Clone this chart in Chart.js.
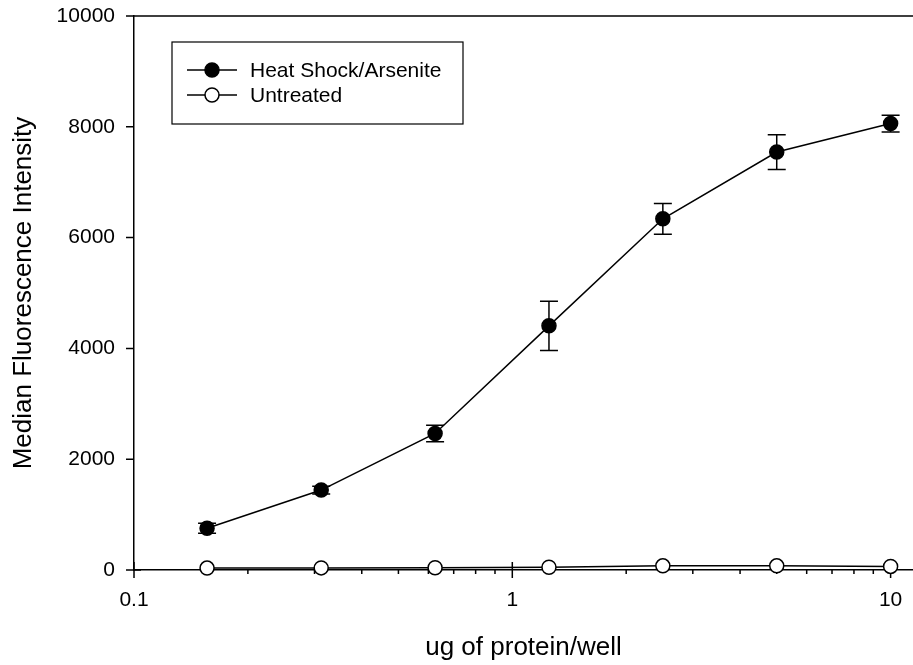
<!DOCTYPE html>
<html>
<head>
<meta charset="utf-8">
<script src="https://cdn.jsdelivr.net/npm/chart.js@4.4.1/dist/chart.umd.min.js"></script>
<style>
  html, body { margin: 0; padding: 0; background: #fff; }
  #wrap { width: 913px; height: 665px; }
</style>
</head>
<body>
<div id="wrap"><canvas id="chart" width="913" height="665"></canvas></div>
<script>
// protein dose per well (ug)
const doses = [0.156, 0.3125, 0.625, 1.25, 2.5, 5, 10];
const heatShock = [755, 1443, 2465, 4407, 6339, 7544, 8058];
const heatShockErr = [90, 70, 150, 443, 277, 313, 151];
const untreated = [35, 38, 40, 50, 75, 75, 65];
const xTickLabels = [0.1, 1, 10];
const yTickLabels = [0, 2000, 4000, 6000, 8000, 10000];

const FONT = "'Liberation Sans', Arial, sans-serif";

const toPoints = (ys) => ys.map((y, i) => ({ x: doses[i], y: y }));

// error bars drawn under the markers
const errorBars = {
    id: 'errorBars',
    beforeDatasetsDraw(chart) {
        const ctx = chart.ctx;
        const xs = chart.scales.x, ys = chart.scales.y;
        ctx.save();
        ctx.strokeStyle = '#000';
        ctx.lineWidth = 1.5;
        heatShock.forEach((v, i) => {
            const px = xs.getPixelForValue(doses[i]);
            const top = ys.getPixelForValue(v + heatShockErr[i]);
            const bot = ys.getPixelForValue(v - heatShockErr[i]);
            ctx.beginPath();
            ctx.moveTo(px, top); ctx.lineTo(px, bot);
            ctx.moveTo(px - 9, top); ctx.lineTo(px + 9, top);
            ctx.moveTo(px - 9, bot); ctx.lineTo(px + 9, bot);
            ctx.stroke();
        });
        ctx.restore();
    }
};

// tick marks, top frame line and the boxed legend
const frame = {
    id: 'frame',
    beforeDatasetsDraw(chart) {
        const ctx = chart.ctx;
        const area = chart.chartArea;
        const xs = chart.scales.x, ys = chart.scales.y;
        ctx.save();
        ctx.strokeStyle = '#000';
        ctx.lineWidth = 1.5;
        ctx.beginPath();
        ctx.moveTo(area.left, area.top);
        ctx.lineTo(area.right, area.top);
        yTickLabels.forEach(v => {
            const py = ys.getPixelForValue(v);
            ctx.moveTo(area.left - 8, py);
            ctx.lineTo(v === 0 ? area.left + 7 : area.left, py);
        });
        xs.ticks.forEach(t => {
            const v = t.value;
            const e = Math.floor(Math.log10(v) + 1e-9);
            const m = v / Math.pow(10, e);
            if (Math.abs(m - Math.round(m)) > 1e-6) return;
            const px = xs.getPixelForValue(v);
            const major = Math.round(m) === 1;
            ctx.moveTo(px, major ? area.bottom - 8 : area.bottom);
            ctx.lineTo(px, area.bottom + (major ? 8 : 4));
        });
        ctx.stroke();
        ctx.restore();
    },
    afterDraw(chart) {
        const ctx = chart.ctx;
        ctx.save();
        ctx.strokeStyle = '#000';
        // legend
        const bx = 172, by = 42, bw = 291, bh = 82;
        ctx.lineWidth = 1.2;
        ctx.strokeRect(bx, by, bw, bh);
        ctx.font = '21px ' + FONT;
        ctx.textBaseline = 'middle';
        ctx.textAlign = 'left';
        chart.data.datasets.forEach((ds, i) => {
            const ly = 70 + i * 25;
            ctx.lineWidth = 1.5;
            ctx.beginPath();
            ctx.moveTo(187, ly); ctx.lineTo(237, ly);
            ctx.stroke();
            ctx.beginPath();
            ctx.arc(212, ly, 7, 0, Math.PI * 2);
            ctx.fillStyle = ds.pointBackgroundColor;
            ctx.fill();
            ctx.stroke();
            ctx.fillStyle = '#000';
            ctx.fillText(ds.label, 250, ly + 1);
        });
        ctx.restore();
    }
};

const config = {
    type: 'line',
    data: {
        datasets: [
            {
                label: 'Heat Shock/Arsenite',
                data: toPoints(heatShock),
                borderColor: '#000',
                borderWidth: 1.5,
                pointRadius: 7,
                pointBackgroundColor: '#000',
                pointBorderColor: '#000',
                pointBorderWidth: 1.5,
                tension: 0,
                clip: false,
            },
            {
                label: 'Untreated',
                data: toPoints(untreated),
                borderColor: '#000',
                borderWidth: 1.5,
                pointRadius: 7,
                pointBackgroundColor: '#fff',
                pointBorderColor: '#000',
                pointBorderWidth: 1.5,
                tension: 0,
                clip: false,
            },
        ]
    },
    options: {
        responsive: false,
        animation: false,
        devicePixelRatio: 1,
        layout: { autoPadding: false, padding: { top: 16, right: 0, left: 0, bottom: 0 } },
        plugins: {
            legend: { display: false },
            tooltip: { enabled: false },
        },
        scales: {
            x: {
                type: 'logarithmic',
                min: 0.1,
                max: 11.46,
                afterFit: (s) => {
                    s.height = 95;
                    s.paddingLeft = 0; s.paddingRight = 0;
                },
                grid: { display: false, drawTicks: false },
                border: { display: true, color: '#000', width: 1.5 },
                ticks: {
                    autoSkip: false,
                    maxRotation: 0,
                    padding: 18,
                    color: '#000',
                    font: { family: FONT, size: 21 },
                    callback: function (value) {
                        return xTickLabels.some(t => Math.abs(t - value) < 1e-9) ? String(value) : '';
                    }
                },
                title: {
                    display: true,
                    text: 'ug of protein/well',
                    color: '#000',
                    font: { family: FONT, size: 26 },
                    padding: { top: 0, bottom: 2 },
                }
            },
            y: {
                min: 0,
                max: 10000,
                afterFit: (s) => {
                    s.width = 134;
                    s.paddingTop = 0; s.paddingBottom = 0;
                },
                grid: { display: false, drawTicks: false },
                border: { display: true, color: '#000', width: 1.5 },
                afterBuildTicks: (s) => { s.ticks = yTickLabels.map(v => ({ value: v })); },
                ticks: {
                    padding: 19,
                    color: '#000',
                    font: { family: FONT, size: 21 },
                    callback: (v) => String(v),
                },
                title: {
                    display: true,
                    text: 'Median Fluorescence Intensity',
                    color: '#000',
                    font: { family: FONT, size: 26 },
                    padding: { top: 8, bottom: 0 },
                }
            }
        }
    },
    plugins: [errorBars, frame],
};

new Chart(document.getElementById('chart'), config);
</script>
</body>
</html>
